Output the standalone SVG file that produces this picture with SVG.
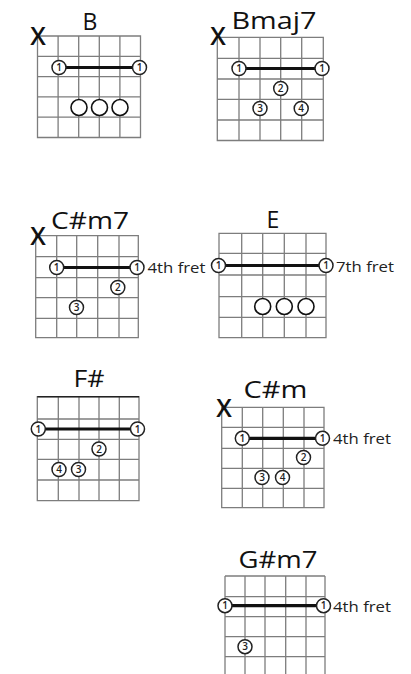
<svg xmlns="http://www.w3.org/2000/svg" width="411" height="674" viewBox="0 0 411 674">
<style>
.grid{fill:none;stroke:#7d7d7d;stroke-width:1.3}
.nut{stroke:#222;stroke-width:1.6}
.barre{stroke:#111;stroke-width:3.2;stroke-linecap:butt}
.f{fill:#fff;stroke:#222;stroke-width:1.5}
.o{fill:#fff;stroke:#111;stroke-width:1.6}
.n{font-family:"Open Sans","Liberation Sans",sans-serif;font-size:10px;font-weight:600;fill:#222;text-anchor:middle}
.t{font-family:"Open Sans","Liberation Sans",sans-serif;font-size:23px;fill:#111;text-anchor:middle}
.x{font-family:"Open Sans","Liberation Sans",sans-serif;font-size:25px;font-weight:600;fill:#111;text-anchor:middle}
.fr{font-family:"Open Sans","Liberation Sans",sans-serif;font-size:14px;fill:#222}
</style>
<rect width="411" height="674" fill="#fff"/>

<g id="chord-B">
<path class="grid" d="M37.5 36H140.5V137.5H37.5Z M58.1 36V137.5 M78.7 36V137.5 M99.3 36V137.5 M119.9 36V137.5 M37.5 56.3H140.5 M37.5 76.6H140.5 M37.5 96.9H140.5 M37.5 117.2H140.5"/>
<text class="t" x="90" y="30">B</text>
<text class="x" x="38" y="45">X</text>
<line class="barre" x1="59" y1="67.5" x2="139" y2="67.5"/>
<circle class="f" cx="59" cy="67.5" r="7"/><text class="n" x="59" y="71">1</text>
<circle class="f" cx="139.5" cy="67.5" r="7"/><text class="n" x="139.5" y="71">1</text>
<circle class="o" cx="79" cy="107.5" r="8"/>
<circle class="o" cx="99.5" cy="107.5" r="8"/>
<circle class="o" cx="120" cy="107.5" r="8"/>
</g>

<g id="chord-Bmaj7">
<path class="grid" d="M217.3 37.3H323.3V140.5H217.3Z M239 37.3V140.5 M260 37.3V140.5 M280.7 37.3V140.5 M301.7 37.3V140.5 M217.3 58.3H323.3 M217.3 79H323.3 M217.3 99.3H323.3 M217.3 120H323.3"/>
<text class="t" x="274" y="28.5" textLength="85" lengthAdjust="spacingAndGlyphs">Bmaj7</text>
<text class="x" x="218" y="45">X</text>
<line class="barre" x1="239" y1="68.5" x2="322" y2="68.5"/>
<circle class="f" cx="239" cy="68.5" r="7"/><text class="n" x="239" y="72">1</text>
<circle class="f" cx="322" cy="68.5" r="7"/><text class="n" x="322" y="72">1</text>
<circle class="f" cx="280.7" cy="88.5" r="7"/><text class="n" x="280.7" y="92">2</text>
<circle class="f" cx="260" cy="108.5" r="7"/><text class="n" x="260" y="112">3</text>
<circle class="f" cx="301.2" cy="108.5" r="7"/><text class="n" x="301.2" y="112">4</text>
</g>

<g id="chord-Csm7">
<path class="grid" d="M35.7 235.7H138.3V337.7H35.7Z M56.7 235.7V337.7 M76.7 235.7V337.7 M97.7 235.7V337.7 M119 235.7V337.7 M35.7 256.7H138.3 M35.7 277.7H138.3 M35.7 297.7H138.3 M35.7 318.3H138.3"/>
<text class="t" x="90" y="228.5" textLength="78" lengthAdjust="spacingAndGlyphs">C#m7</text>
<text class="x" x="38" y="245">X</text>
<line class="barre" x1="56.7" y1="267.5" x2="137" y2="267.5"/>
<circle class="f" cx="56.7" cy="267.5" r="7"/><text class="n" x="56.7" y="271">1</text>
<circle class="f" cx="137" cy="267.5" r="7"/><text class="n" x="137" y="271">1</text>
<circle class="f" cx="117.8" cy="287.5" r="7"/><text class="n" x="117.8" y="291">2</text>
<circle class="f" cx="76.5" cy="307.5" r="7"/><text class="n" x="76.5" y="311">3</text>
<text class="fr" x="147.5" y="272.5" textLength="58" lengthAdjust="spacingAndGlyphs">4th fret</text>
</g>

<g id="chord-E">
<path class="grid" d="M219 233.3H326V337.7H219Z M241.7 233.3V337.7 M262.7 233.3V337.7 M284.3 233.3V337.7 M306 233.3V337.7 M219 253.3H326 M219 275H326 M219 296.7H326 M219 317.3H326"/>
<text class="t" x="273" y="227.7">E</text>
<line class="barre" x1="218.5" y1="265.5" x2="326" y2="265.5"/>
<circle class="f" cx="218.5" cy="265.5" r="7"/><text class="n" x="218.5" y="269">1</text>
<circle class="f" cx="326" cy="265.5" r="7"/><text class="n" x="326" y="269">1</text>
<circle class="o" cx="262.7" cy="306.5" r="8"/>
<circle class="o" cx="284.3" cy="306.5" r="8"/>
<circle class="o" cx="306" cy="306.5" r="8"/>
<text class="fr" x="336" y="272" textLength="58" lengthAdjust="spacingAndGlyphs">7th fret</text>
</g>

<g id="chord-Fs">
<path class="grid" d="M37.3 396.7H139V500.7H37.3Z M58.3 396.7V500.7 M79 396.7V500.7 M99 396.7V500.7 M119.3 396.7V500.7 M37.3 419H139 M37.3 439.3H139 M37.3 459.3H139 M37.3 480H139"/>
<line class="nut" x1="37.3" y1="396.7" x2="139" y2="396.7"/>
<text class="t" x="89" y="387.3" textLength="31" lengthAdjust="spacingAndGlyphs">F#</text>
<line class="barre" x1="38.3" y1="429" x2="137.5" y2="429"/>
<circle class="f" cx="38.3" cy="429" r="7"/><text class="n" x="38.3" y="432.5">1</text>
<circle class="f" cx="137.5" cy="429" r="7"/><text class="n" x="137.5" y="432.5">1</text>
<circle class="f" cx="99" cy="449" r="7"/><text class="n" x="99" y="452.5">2</text>
<circle class="f" cx="59" cy="469.5" r="7"/><text class="n" x="59" y="473">4</text>
<circle class="f" cx="78.5" cy="469.5" r="7"/><text class="n" x="78.5" y="473">3</text>
</g>

<g id="chord-Csm">
<path class="grid" d="M221.7 407.3H324V507.7H221.7Z M242.3 407.3V507.7 M262.7 407.3V507.7 M283.3 407.3V507.7 M304 407.3V507.7 M221.7 427.3H324 M221.7 448.3H324 M221.7 468.3H324 M221.7 488.3H324"/>
<text class="t" x="275.5" y="398.3" textLength="64" lengthAdjust="spacingAndGlyphs">C#m</text>
<text class="x" x="224" y="416.7">X</text>
<line class="barre" x1="242.3" y1="438.3" x2="322.5" y2="438.3"/>
<circle class="f" cx="242.3" cy="438.3" r="7"/><text class="n" x="242.3" y="441.8">1</text>
<circle class="f" cx="322.5" cy="438.3" r="7"/><text class="n" x="322.5" y="441.8">1</text>
<circle class="f" cx="303.5" cy="457.5" r="7"/><text class="n" x="303.5" y="461">2</text>
<circle class="f" cx="262" cy="477.5" r="7"/><text class="n" x="262" y="481">3</text>
<circle class="f" cx="282.5" cy="477.5" r="7"/><text class="n" x="282.5" y="481">4</text>
<text class="fr" x="333" y="444" textLength="58" lengthAdjust="spacingAndGlyphs">4th fret</text>
</g>

<g id="chord-Gsm7">
<path class="grid" d="M225 576H325 M225 576V674 M245 576V674 M265 576V674 M285.7 576V674 M306 576V674 M325 576V674 M225 596.7H325 M225 616.7H325 M225 636.7H325 M225 656.7H325"/>
<text class="t" x="278" y="568.3" textLength="79" lengthAdjust="spacingAndGlyphs">G#m7</text>
<line class="barre" x1="225" y1="605.7" x2="323.5" y2="605.7"/>
<circle class="f" cx="225" cy="605.7" r="7"/><text class="n" x="225" y="609.2">1</text>
<circle class="f" cx="323.5" cy="605.7" r="7"/><text class="n" x="323.5" y="609.2">1</text>
<circle class="f" cx="245" cy="646.7" r="7"/><text class="n" x="245" y="650.2">3</text>
<text class="fr" x="333" y="611.7" textLength="58" lengthAdjust="spacingAndGlyphs">4th fret</text>
</g>
</svg>
